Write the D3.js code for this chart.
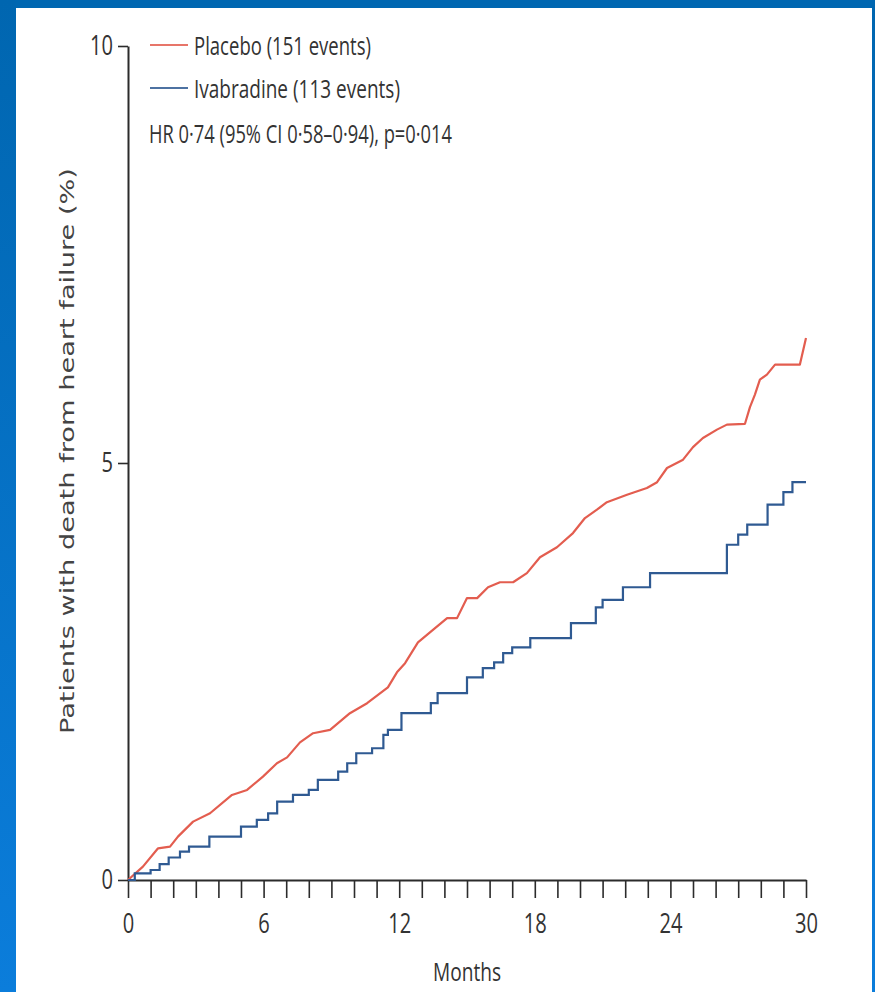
<!DOCTYPE html>
<html>
<head>
<meta charset="utf-8">
<script src="https://cdn.jsdelivr.net/npm/d3@7"></script>
<style>
  html, body { margin: 0; padding: 0; background: #0067b1; }
  svg { display: block; }
</style>
</head>
<body>
<script>
// Cumulative death from heart failure (%), Kaplan-Meier style curves
const placeboMonths = [0, 0.66, 1.33, 1.86, 2.21, 2.88, 3.63, 4.60, 5.27, 5.97, 6.59, 7.04, 7.61, 8.19, 8.94,
  9.82, 10.58, 11.50, 11.90, 12.26, 12.83, 13.36, 14.12, 14.56, 15.00, 15.45, 15.93, 16.46, 17.04, 17.65,
  18.23, 18.98, 19.69, 20.22, 20.75, 21.19, 22.08, 22.96, 23.41, 23.85, 24.56, 25.00, 25.44, 26.06, 26.50,
  27.30, 27.52, 27.74, 27.96, 28.27, 28.63, 29.73, 30.00];
const placeboPct = [0, 0.16, 0.38, 0.40, 0.52, 0.70, 0.80, 1.02, 1.08, 1.24, 1.40, 1.47, 1.65, 1.76, 1.80,
  2.00, 2.12, 2.31, 2.49, 2.60, 2.85, 2.97, 3.14, 3.14, 3.38, 3.38, 3.51, 3.57, 3.57, 3.68,
  3.87, 3.99, 4.16, 4.34, 4.44, 4.53, 4.62, 4.70, 4.77, 4.94, 5.04, 5.19, 5.30, 5.40, 5.46,
  5.47, 5.67, 5.82, 6.00, 6.06, 6.18, 6.18, 6.50];

const ivabMonths = [0, 0.3, 1.0, 1.4, 1.8, 2.3, 2.7, 3.6, 5.0, 5.7, 6.2, 6.6, 7.3, 8.0, 8.4, 9.3, 9.7,
  10.1, 10.8, 11.3, 11.5, 12.1, 13.4, 13.7, 15.0, 15.7, 16.2, 16.6, 17.0, 17.8, 19.6, 20.7, 21.0, 21.9,
  23.1, 26.5, 27.0, 27.4, 28.3, 29.0, 29.4, 30.0];
const ivabPct = [0, 0.08, 0.12, 0.19, 0.27, 0.34, 0.40, 0.52, 0.64, 0.72, 0.80, 0.94, 1.02, 1.08, 1.20, 1.30, 1.40,
  1.52, 1.58, 1.74, 1.80, 2.00, 2.12, 2.24, 2.43, 2.54, 2.61, 2.72, 2.79, 2.90, 3.08, 3.27, 3.36, 3.51,
  3.68, 4.02, 4.14, 4.26, 4.50, 4.65, 4.77, 4.77];

const seriesNames = ["Placebo (151 events)", "Ivabradine (113 events)"];
const seriesColors = ["#e35d4f", "#2f5a92"];
const statsText = "HR 0·74 (95% CI 0·58–0·94), p=0·014";
const xTickValues = d3.range(0, 31);
const xTickLabels = [0, 6, 12, 18, 24, 30];
const yTickValues = [0, 5, 10];
const xTitle = "Months";
const yTitle = "Patients with death from heart failure (%)";

const W = 875, H = 992;
const condensed = "'Open Sans', 'Noto Sans', sans-serif";

const svg = d3.select("body").append("svg").attr("width", W).attr("height", H);

// slide frame
const defs = svg.append("defs");
const g1 = defs.append("linearGradient").attr("id", "edge").attr("x1", 0).attr("y1", 0).attr("x2", 0).attr("y2", 1);
g1.append("stop").attr("offset", "0%").attr("stop-color", "#0066b0");
g1.append("stop").attr("offset", "100%").attr("stop-color", "#0b7ddb");
svg.append("rect").attr("width", W).attr("height", H).attr("fill", "#0067b1");
svg.append("rect").attr("x", 0).attr("y", 0).attr("width", 16).attr("height", H).attr("fill", "url(#edge)");
svg.append("rect").attr("x", 872).attr("y", 0).attr("width", 3).attr("height", H).attr("fill", "url(#edge)");
svg.append("rect").attr("x", 16).attr("y", 8).attr("width", 856).attr("height", H - 8).attr("fill", "#ffffff");

const x = d3.scaleLinear().domain([0, 30]).range([128, 806]);
const y = d3.scaleLinear().domain([0, 10]).range([880, 46]);

const axisColor = "#2b2b2b";
const textColor = "#333333";

// x axis
const xAxis = svg.append("g").attr("transform", `translate(0,${y(0)})`)
  .call(d3.axisBottom(x).tickValues(xTickValues).tickSize(18).tickSizeOuter(0).tickPadding(16)
    .tickFormat(d => xTickLabels.includes(d) ? String(d) : ""));
xAxis.select(".domain").attr("stroke", axisColor).attr("stroke-width", 2);
xAxis.selectAll(".tick line").attr("stroke", axisColor).attr("stroke-width", 1.6);
xAxis.selectAll(".tick text")
  .attr("fill", textColor).style("font-family", condensed).style("font-size", "27px")
  .each(function(d) {
    if (xTickLabels.includes(d)) {
      d3.select(this).attr("textLength", String(d).length * 11.5).attr("lengthAdjust", "spacingAndGlyphs");
    }
  });

// y axis
const yAxis = svg.append("g").attr("transform", `translate(${x(0)},0)`)
  .call(d3.axisLeft(y).tickValues(yTickValues).tickSize(10).tickSizeOuter(0).tickPadding(5)
    .tickFormat(d => String(d)));
yAxis.select(".domain").attr("stroke", axisColor).attr("stroke-width", 2);
yAxis.selectAll(".tick line").attr("stroke", axisColor).attr("stroke-width", 1.6);
yAxis.selectAll(".tick text")
  .attr("fill", textColor).style("font-family", condensed).style("font-size", "27px")
  .attr("textLength", d => String(d).length * 11.5).attr("lengthAdjust", "spacingAndGlyphs");

// axis titles
svg.append("text").attr("x", 467).attr("y", 981).attr("text-anchor", "middle")
  .attr("fill", textColor).style("font-family", condensed).style("font-size", "25px")
  .attr("textLength", 68).attr("lengthAdjust", "spacingAndGlyphs").text(xTitle);

svg.append("text").attr("transform", "translate(74,451) rotate(-90)").attr("text-anchor", "middle")
  .attr("fill", "#444444").style("font-family", "'DejaVu Sans', Verdana, sans-serif").style("font-size", "20px")
  .attr("textLength", 566).attr("lengthAdjust", "spacingAndGlyphs").text(yTitle);

// curves
const placebo = placeboMonths.map((m, i) => [m, placeboPct[i]]);
const ivab = ivabMonths.map((m, i) => [m, ivabPct[i]]);

svg.append("path").datum(placebo)
  .attr("fill", "none").attr("stroke", seriesColors[0]).attr("stroke-width", 2.2).attr("stroke-linejoin", "round")
  .attr("d", d3.line().x(d => x(d[0])).y(d => y(d[1])).curve(d3.curveLinear));

svg.append("path").datum(ivab)
  .attr("fill", "none").attr("stroke", seriesColors[1]).attr("stroke-width", 2.2)
  .attr("d", d3.line().x(d => x(d[0])).y(d => y(d[1])).curve(d3.curveStepAfter));

// legend
const legendY = [45, 88];
const legendW = [177, 206];
seriesNames.forEach((name, i) => {
  svg.append("line").attr("x1", 150).attr("x2", 188).attr("y1", legendY[i]).attr("y2", legendY[i])
    .attr("stroke", seriesColors[i]).attr("stroke-width", 2.2).attr("opacity", 0.85);
  svg.append("text").attr("x", 194).attr("y", legendY[i] + 10)
    .attr("fill", textColor).style("font-family", condensed).style("font-size", "26px")
    .attr("textLength", legendW[i]).attr("lengthAdjust", "spacingAndGlyphs").text(name);
});
svg.append("text").attr("x", 149).attr("y", 143)
  .attr("fill", textColor).style("font-family", condensed).style("font-size", "26px")
  .attr("textLength", 303).attr("lengthAdjust", "spacingAndGlyphs").text(statsText);
</script>
</body>
</html>
